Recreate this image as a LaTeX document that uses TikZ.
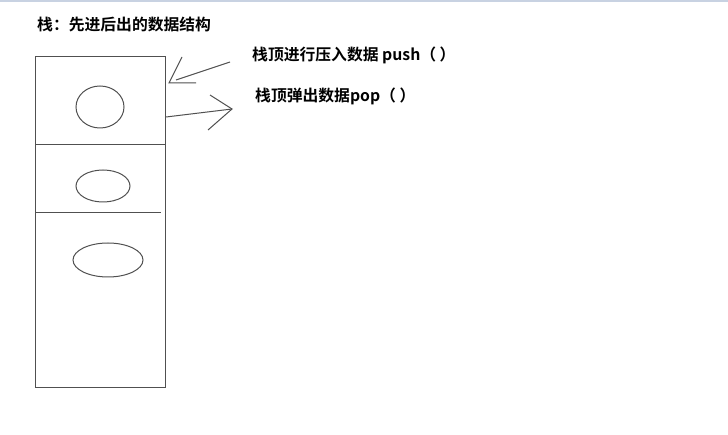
\documentclass[tikz,border=0pt]{standalone}
\usepackage{fontspec}
\setmainfont{Noto Sans CJK SC Bold}
\usepackage{tikz}
\usetikzlibrary{positioning}
\definecolor{strich}{RGB}{80,80,80}
\definecolor{leiste}{RGB}{200,210,226}
\begin{document}
\begin{tikzpicture}[x=1pt, y=-1pt,
			linie/.style={draw=strich, line width=1pt},
			schrift/.style={anchor=west, inner sep=0pt, font=\fontsize{15.8}{18}\selectfont}]
			%Bildbereich
			\useasboundingbox (0,0) rectangle (728,435);
			\fill[leiste] (0,0) rectangle (728,2.5);
			%Stapel zeichnen
			\draw[linie] (35,57) rectangle (165,387);
			\draw[linie] (35,145) -- (165,145);
			\draw[linie] (35,213) -- (161,213);
			%Elemente
			\draw[linie] (100,107) ellipse (24 and 21);
			\draw[linie] (103,186) ellipse (27 and 16);
			\draw[linie] (108,260) ellipse (35 and 17);
			%Beschriftung
			\node[schrift] (titel) at (37,25) {栈：先进后出的数据结构};
			\node[schrift] (push) at (252,55) {栈顶进行压入数据 push（ ）};
			\node[schrift] (pop) at (255,96) {栈顶弹出数据pop（ ）};
			%Pfeile von Hand
			\coordinate (pushA) at (230,62);
			\coordinate (pushB) at (176,80);
			\coordinate (popA) at (166,117);
			\coordinate (popB) at (232,109);
			\draw[linie] (pushA) -- (pushB);
			\draw[linie] (182,57) -- (169,83) -- (196,83);
			\draw[linie] (popA) -- (popB);
			\draw[linie] (210,95) -- (popB) -- (208,130);
		\end{tikzpicture}
\end{document}
